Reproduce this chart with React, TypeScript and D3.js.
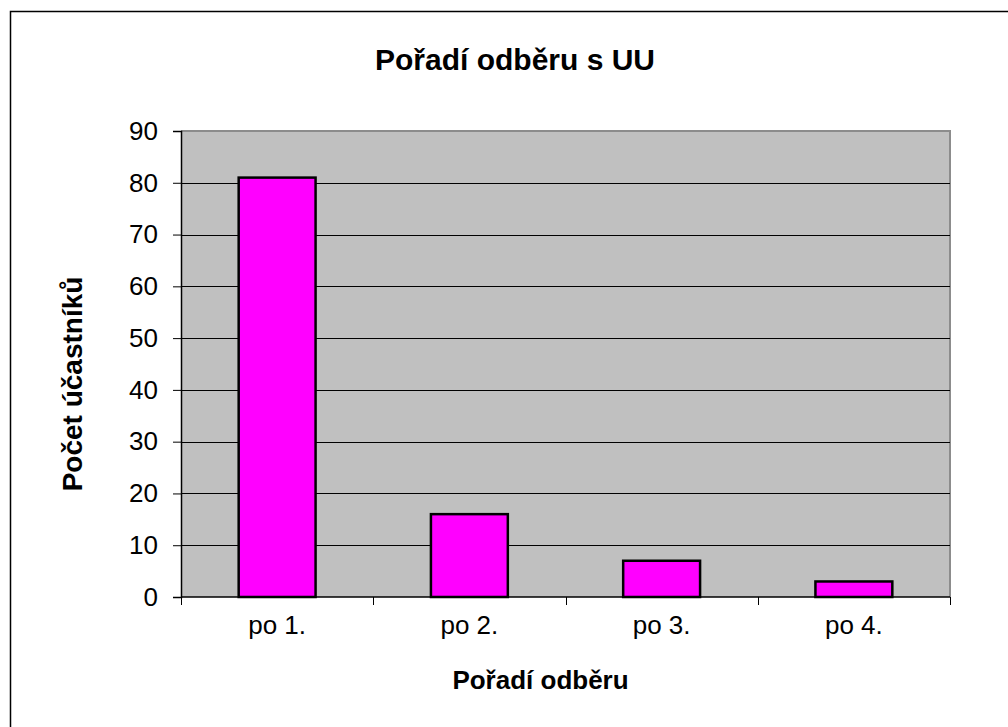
import React, { useRef, useEffect } from "react";
import * as d3 from "d3";

const categories = ["po 1.", "po 2.", "po 3.", "po 4."];
const counts = [81, 16, 7, 3];
const yTicks = [0, 10, 20, 30, 40, 50, 60, 70, 80, 90];

const title = "Pořadí odběru s UU";
const xTitle = "Pořadí odběru";
const yTitle = "Počet účastníků";

export default function App() {
  const svgRef = useRef<SVGSVGElement>(null);

  useEffect(() => {
    const width = 1008;
    const height = 727;
    const margin = { top: 131, right: 58, bottom: 130, left: 181 };
    const font = "Arial, 'Liberation Sans', sans-serif";

    const svg = d3.select(svgRef.current);
    svg.selectAll("*").remove();

    // outer chart frame (runs off the right and bottom edge)
    svg
      .append("path")
      .attr("d", `M10.5,${height + 5} L10.5,11.5 L${width + 5},11.5`)
      .attr("fill", "none")
      .attr("stroke", "#000")
      .attr("stroke-width", 1.5);

    const x = d3
      .scaleBand()
      .domain(categories)
      .range([margin.left, width - margin.right])
      .paddingInner(0.6)
      .paddingOuter(0.3);

    const y = d3
      .scaleLinear()
      .domain([0, 90])
      .range([height - margin.bottom, margin.top]);

    const x0 = margin.left;
    const x1 = width - margin.right;
    const y0 = y(0);
    const y1 = y(90);

    // plot area
    svg
      .append("rect")
      .attr("x", x0)
      .attr("y", y1)
      .attr("width", x1 - x0)
      .attr("height", y0 - y1)
      .attr("fill", "#c0c0c0");

    svg
      .append("path")
      .attr("d", `M${x0},${y1} L${x1},${y1} L${x1},${y0}`)
      .attr("fill", "none")
      .attr("stroke", "#8c8c8c")
      .attr("stroke-width", 2);

    // gridlines
    svg
      .append("g")
      .selectAll("line")
      .data(yTicks.filter((t) => t > 0 && t < 90))
      .join("line")
      .attr("x1", x0)
      .attr("x2", x1)
      .attr("y1", (d) => Math.round(y(d)) + 0.5)
      .attr("y2", (d) => Math.round(y(d)) + 0.5)
      .attr("stroke", "#000")
      .attr("stroke-width", 1);

    // bars
    svg
      .append("g")
      .selectAll("rect")
      .data(counts)
      .join("rect")
      .attr("x", (_, i) => x(categories[i])!)
      .attr("y", (d) => y(d))
      .attr("width", x.bandwidth())
      .attr("height", (d) => y0 - y(d))
      .attr("fill", "#ff00ff")
      .attr("stroke", "#000")
      .attr("stroke-width", 2.5);

    // y axis
    const yAxis = svg
      .append("g")
      .attr("transform", `translate(${x0},0)`)
      .call(
        d3
          .axisLeft(y)
          .tickValues(yTicks)
          .tickSize(8)
          .tickPadding(15)
          .tickFormat(d3.format("d"))
      );
    yAxis.select(".domain").attr("stroke", "#000").attr("stroke-width", 1.5);
    yAxis.selectAll(".tick line").attr("stroke", "#000");
    yAxis
      .selectAll(".tick text")
      .attr("fill", "#000")
      .style("font-family", font)
      .style("font-size", "26px");

    // x axis
    const bandStep = (x1 - x0) / categories.length;
    const boundaries = d3.range(categories.length + 1).map((i) => x0 + i * bandStep);
    const xAxis = svg.append("g");
    xAxis
      .append("line")
      .attr("x1", x0)
      .attr("x2", x1)
      .attr("y1", y0)
      .attr("y2", y0)
      .attr("stroke", "#000")
      .attr("stroke-width", 1.5);
    xAxis
      .selectAll("line.tk")
      .data(boundaries)
      .join("line")
      .attr("class", "tk")
      .attr("x1", (d) => Math.round(d) + 0.5)
      .attr("x2", (d) => Math.round(d) + 0.5)
      .attr("y1", y0)
      .attr("y2", y0 + 8)
      .attr("stroke", "#000");
    xAxis
      .selectAll("text")
      .data(categories)
      .join("text")
      .attr("x", (d) => x(d)! + x.bandwidth() / 2)
      .attr("y", y0 + 37)
      .attr("text-anchor", "middle")
      .style("font-family", font)
      .style("font-size", "26px")
      .text((d) => d);

    // titles
    svg
      .append("text")
      .attr("x", 515)
      .attr("y", 70)
      .attr("text-anchor", "middle")
      .style("font-family", font)
      .style("font-size", "30px")
      .style("font-weight", "bold")
      .text(title);

    svg
      .append("text")
      .attr("x", (x0 + x1) / 2 - 25)
      .attr("y", 689)
      .attr("text-anchor", "middle")
      .style("font-family", font)
      .style("font-size", "26px")
      .style("font-weight", "bold")
      .text(xTitle);

    svg
      .append("text")
      .attr("transform", `translate(82,${(y0 + y1) / 2 + 20}) rotate(-90)`)
      .attr("text-anchor", "middle")
      .style("font-family", font)
      .style("font-size", "28px")
      .style("font-weight", "bold")
      .text(yTitle);
  }, []);

  return (
    <svg
      ref={svgRef}
      width={1008}
      height={727}
      style={{ position: "absolute", left: 0, top: 0, background: "#fff" }}
    />
  );
}
